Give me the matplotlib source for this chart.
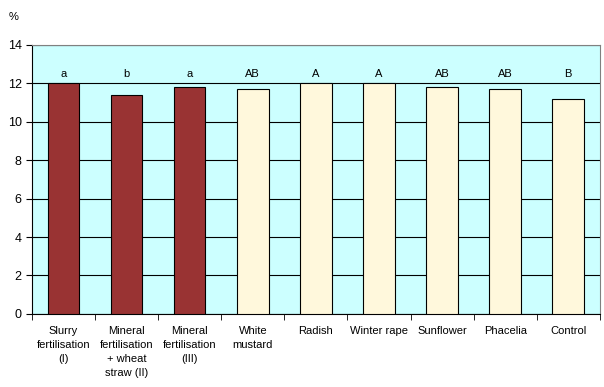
import matplotlib
matplotlib.use("Agg")
import matplotlib.pyplot as plt

categories = ["Slurry\nfertilisation\n(I)", "Mineral\nfertilisation\n+ wheat\nstraw (II)",
              "Mineral\nfertilisation\n(III)", "White\nmustard", "Radish", "Winter rape",
              "Sunflower", "Phacelia", "Control"]
values = [12.0, 11.4, 11.8, 11.7, 12.0, 12.0, 11.8, 11.7, 11.2]
letters = ["a", "b", "a", "AB", "A", "A", "AB", "AB", "B"]
groups = ["fert", "fert", "fert", "cc", "cc", "cc", "cc", "cc", "cc"]

plt.rcParams['font.family'] = ['Liberation Sans', 'DejaVu Sans']
colors = {"fert": "#993333", "cc": "#FFF8DC"}

fig = plt.figure(figsize=(6.04, 3.87), dpi=100)
ax = fig.add_axes([0.053, 0.189, 0.94, 0.695])
ax.set_facecolor("#CCFFFF")
x = list(range(len(categories)))
ax.set_axisbelow(True)
ax.yaxis.grid(True, color="black", linewidth=0.8)
ax.bar(x, values, width=0.5, color=[colors[g] for g in groups], edgecolor="black", linewidth=0.8, zorder=3)
for xi, l in zip(x, letters):
    ax.text(xi, 12.5, l, ha="center", va="center", fontsize=8)
ax.set_xlim(-0.5, len(categories) - 0.5)
ax.set_ylim(0, 14)
ax.set_yticks(range(0, 15, 2))
ax.set_xticks(x)
ax.set_xticklabels(categories, fontsize=8, linespacing=1.5, va="top")
ax.set_xticks([i + 0.5 for i in range(-1, len(categories))], minor=True)
ax.tick_params(axis="x", which="major", length=0, pad=9)
ax.tick_params(axis="x", which="minor", length=4, direction="out")
ax.tick_params(axis="y", length=4, direction="out", labelsize=9)
for s in ["top", "right"]:
    ax.spines[s].set_color("#808080")
for s in ["left", "bottom"]:
    ax.spines[s].set_color("black")
fig.text(0.022, 0.957, "%", fontsize=8, ha="center", va="center")
fig.savefig("out.png", dpi=100)
